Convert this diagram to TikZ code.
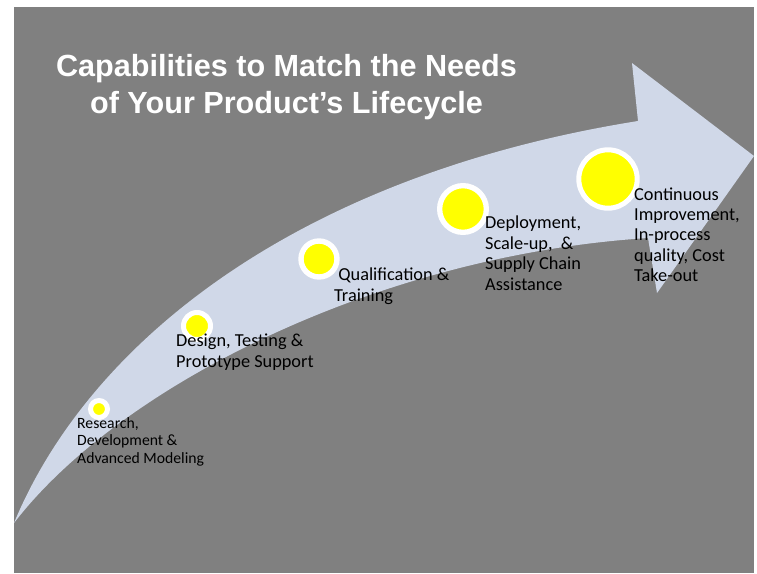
\documentclass[tikz,border=0pt]{standalone}
\usepackage{fontspec}
\setmainfont{Carlito}
\newfontfamily\titlefont{Liberation Sans}
\definecolor{bggray}{RGB}{128,128,128}
\definecolor{arrowfill}{RGB}{208,216,232}
\definecolor{dotyellow}{RGB}{255,255,0}
\begin{document}
\begin{tikzpicture}[x=1pt,y=-1pt,
  dot/.style={circle,inner sep=0pt,fill=dotyellow,draw=white},
  lbl/.style={anchor=base west,inner sep=0pt,align=left,text=black,
    font=\fontsize{18.3}{20.4}\selectfont},
  smalllbl/.style={lbl,font=\fontsize{15.7}{17.5}\selectfont}]
\useasboundingbox (0,0) rectangle (757,573);
\fill[bggray] (14,7) rectangle (754,573);
\fill[arrowfill] (14,523) .. controls (90,340) and (300,175) .. (638,121)
  -- (632,63) -- (754,156) -- (657,293) -- (648,238)
  .. controls (380,255) and (120,385) .. (14,523) -- cycle;
\node[anchor=base,inner sep=0pt,align=center,text=white,
  font=\titlefont\bfseries\fontsize{30.6}{37}\selectfont] (title) at (286.5,113)
  {Capabilities to Match the Needs\\of Your Product’s Lifecycle};
\node[dot,line width=5pt,minimum size=17pt] (d1) at (99,409) {};
\node[dot,line width=5pt,minimum size=27pt] (d2) at (197,326) {};
\node[dot,line width=5.4pt,minimum size=36pt] (d3) at (319,259) {};
\node[dot,line width=5.3pt,minimum size=46.7pt] (d4) at (463,209) {};
\node[dot,line width=5pt,minimum size=58.4pt] (d5) at (608,179) {};
\node[smalllbl] (t1) at (77,463) {Research,\\Development \&\\Advanced Modeling};
\node[lbl] (t2) at (176,367) {Design, Testing \&\\Prototype Support};
\node[lbl] (t3) at (334,301) {\ Qualification \&\\Training};
\node[lbl] (t4) at (485,290) {Deployment,\\Scale-up,\ \ \&\\Supply Chain\\Assistance};
\node[lbl] (t5) at (634,281.6) {Continuous\\Improvement,\\In-process\\quality, Cost\\Take-out};
\end{tikzpicture}
\end{document}
